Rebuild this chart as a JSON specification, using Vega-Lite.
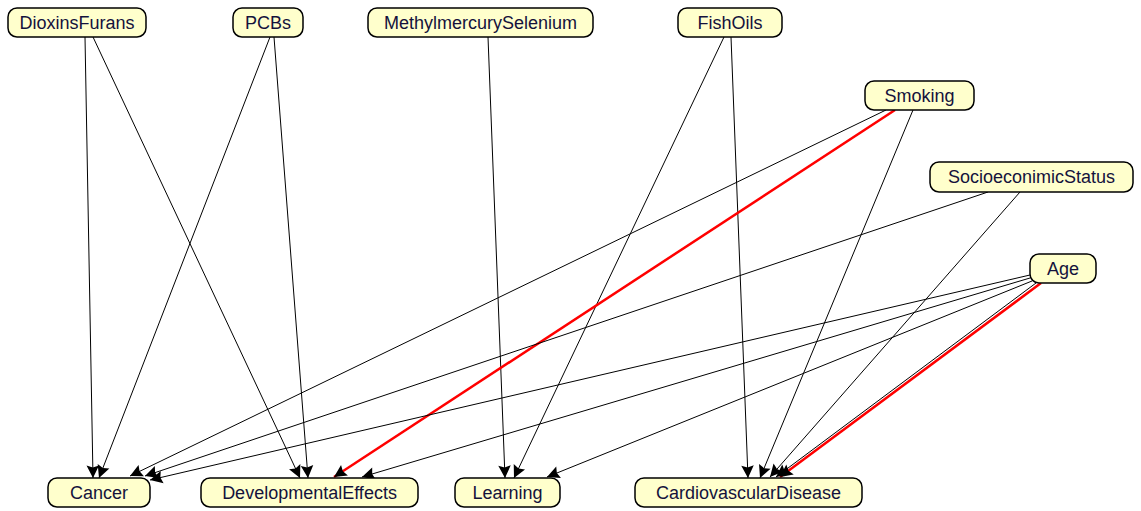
{
  "$schema": "https://vega.github.io/schema/vega-lite/v6.json",
  "width": 1141,
  "height": 511,
  "padding": 0,
  "autosize": {"type": "fit", "contains": "padding"},
  "background": "white",
  "config": {"view": {"stroke": null}},
  "datasets": {
    "nodes": [
      {"name": "DioxinsFurans", "left": 8, "right": 146, "top": 8, "bottom": 37},
      {"name": "PCBs", "left": 233, "right": 303, "top": 8, "bottom": 37},
      {"name": "MethylmercurySelenium", "left": 368, "right": 593, "top": 8, "bottom": 37},
      {"name": "FishOils", "left": 678, "right": 782, "top": 8, "bottom": 37},
      {"name": "Smoking", "left": 865, "right": 974, "top": 81, "bottom": 110},
      {"name": "SocioeconimicStatus", "left": 930, "right": 1133, "top": 162, "bottom": 192},
      {"name": "Age", "left": 1030, "right": 1096, "top": 254, "bottom": 283},
      {"name": "Cancer", "left": 48, "right": 150, "top": 478, "bottom": 507},
      {"name": "DevelopmentalEffects", "left": 201, "right": 418, "top": 478, "bottom": 507},
      {"name": "Learning", "left": 455, "right": 560, "top": 478, "bottom": 507},
      {"name": "CardiovascularDisease", "left": 635, "right": 862, "top": 478, "bottom": 507}
    ],
    "edges": [
      {"from": "DioxinsFurans", "to": "Cancer", "kind": "normal", "sx": 85, "sy": 37, "tx": 93, "ty": 478},
      {"from": "DioxinsFurans", "to": "DevelopmentalEffects", "kind": "normal", "sx": 93, "sy": 37, "tx": 300, "ty": 478},
      {"from": "PCBs", "to": "Cancer", "kind": "normal", "sx": 270, "sy": 37, "tx": 99, "ty": 478},
      {"from": "PCBs", "to": "DevelopmentalEffects", "kind": "normal", "sx": 274, "sy": 37, "tx": 308, "ty": 478},
      {"from": "MethylmercurySelenium", "to": "Learning", "kind": "normal", "sx": 488, "sy": 37, "tx": 505, "ty": 478},
      {"from": "FishOils", "to": "Learning", "kind": "normal", "sx": 724, "sy": 37, "tx": 514, "ty": 478},
      {"from": "FishOils", "to": "CardiovascularDisease", "kind": "normal", "sx": 731, "sy": 37, "tx": 748, "ty": 478},
      {"from": "Smoking", "to": "Cancer", "kind": "normal", "sx": 886, "sy": 110, "tx": 130, "ty": 476},
      {"from": "Smoking", "to": "DevelopmentalEffects", "kind": "highlight", "sx": 895, "sy": 110, "tx": 334, "ty": 477},
      {"from": "Smoking", "to": "CardiovascularDisease", "kind": "normal", "sx": 913, "sy": 110, "tx": 760, "ty": 478},
      {"from": "SocioeconimicStatus", "to": "Cancer", "kind": "normal", "sx": 988, "sy": 192, "tx": 145, "ty": 476},
      {"from": "SocioeconimicStatus", "to": "CardiovascularDisease", "kind": "normal", "sx": 1020, "sy": 192, "tx": 770, "ty": 477},
      {"from": "Age", "to": "Cancer", "kind": "normal", "sx": 1030, "sy": 275, "tx": 150, "ty": 480},
      {"from": "Age", "to": "DevelopmentalEffects", "kind": "normal", "sx": 1030, "sy": 278, "tx": 362, "ty": 477},
      {"from": "Age", "to": "Learning", "kind": "normal", "sx": 1032, "sy": 281, "tx": 547, "ty": 477},
      {"from": "Age", "to": "CardiovascularDisease", "kind": "normal", "sx": 1036, "sy": 283, "tx": 776, "ty": 477},
      {"from": "Age", "to": "CardiovascularDisease", "kind": "highlight", "sx": 1041, "sy": 283, "tx": 780, "ty": 477}
    ]
  },
  "layer": [
    {
      "data": {"name": "edges"},
      "mark": {"type": "rule"},
      "encoding": {
        "x": {"field": "sx", "type": "quantitative", "scale": {"domain": [0, 1141], "nice": false, "zero": false}, "axis": null},
        "y": {"field": "sy", "type": "quantitative", "scale": {"domain": [0, 511], "nice": false, "zero": false, "reverse": true}, "axis": null},
        "x2": {"field": "tx"},
        "y2": {"field": "ty"},
        "color": {"field": "kind", "type": "nominal", "scale": {"domain": ["normal", "highlight"], "range": ["#000000", "#ff0000"]}, "legend": null},
        "strokeWidth": {"field": "kind", "type": "nominal", "scale": {"domain": ["normal", "highlight"], "range": [1, 2.5]}, "legend": null}
      }
    },
    {
      "data": {"name": "edges"},
      "transform": [
        {"calculate": "atan2(datum.tx - datum.sx, -(datum.ty - datum.sy)) * 180 / PI", "as": "ang"}
      ],
      "mark": {"type": "point", "shape": "M0,0L-0.5,1L0,0.85L0.5,1Z", "filled": true, "opacity": 1, "color": "#000000", "size": 625, "strokeWidth": 0},
      "encoding": {
        "x": {"field": "tx", "type": "quantitative"},
        "y": {"field": "ty", "type": "quantitative"},
        "angle": {"field": "ang", "type": "quantitative", "scale": null}
      }
    },
    {
      "data": {"name": "nodes"},
      "mark": {"type": "rect", "cornerRadius": 9, "fill": "#ffffcc", "stroke": "#000000", "strokeWidth": 1.5},
      "encoding": {
        "x": {"field": "left", "type": "quantitative"},
        "x2": {"field": "right"},
        "y": {"field": "top", "type": "quantitative"},
        "y2": {"field": "bottom"}
      }
    },
    {
      "data": {"name": "nodes"},
      "transform": [
        {"calculate": "(datum.left + datum.right) / 2", "as": "cx"},
        {"calculate": "(datum.top + datum.bottom) / 2", "as": "cy"}
      ],
      "mark": {"type": "text", "font": "Liberation Sans", "fontSize": 18, "color": "#14123c", "align": "center", "baseline": "middle", "dy": 1},
      "encoding": {
        "x": {"field": "cx", "type": "quantitative"},
        "y": {"field": "cy", "type": "quantitative"},
        "text": {"field": "name", "type": "nominal"}
      }
    }
  ]
}
